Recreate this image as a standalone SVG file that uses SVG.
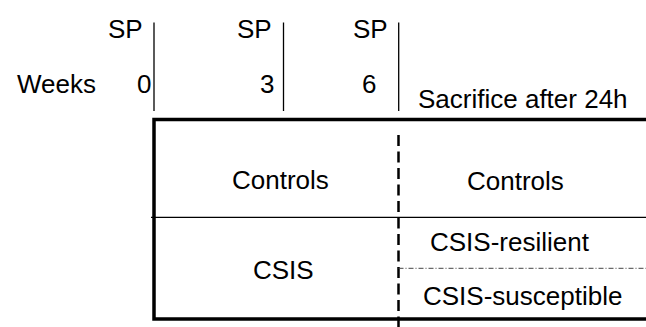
<svg xmlns="http://www.w3.org/2000/svg" width="646" height="327" viewBox="0 0 646 327">
<style>
text{font-family:"Liberation Sans",Arial,sans-serif;font-size:26px;fill:#000}
.tick{stroke:#000;stroke-width:1.3;fill:none}
.thin{stroke:#000;stroke-width:1.3;fill:none}
.frame{stroke:#000;stroke-width:3.5;fill:none}
.dash{stroke:#000;stroke-width:2.5;stroke-dasharray:11 5.5;fill:none}
.dashdot{stroke:#444;stroke-width:1;stroke-dasharray:5 2 1 2;fill:none}
</style>
<rect width="646" height="327" fill="#fff"/>
<g id="timeline">
<text x="108" y="38">SP</text>
<text x="237" y="38">SP</text>
<text x="353" y="38">SP</text>
<text x="17" y="93">Weeks</text>
<text x="137" y="93">0</text>
<text x="260" y="93">3</text>
<text x="362" y="93">6</text>
<text x="418" y="108">Sacrifice after 24h</text>
<line class="tick" x1="154" y1="22.5" x2="154" y2="111"/>
<line class="tick" x1="283.5" y1="22.5" x2="283.5" y2="111"/>
<line class="tick" x1="398.7" y1="22.5" x2="398.7" y2="111"/>
</g>
<g id="connectors">
<path class="frame" d="M650 119.5 H154 V319 H650"/>
<line class="thin" x1="151" y1="217.3" x2="646" y2="217.3"/>
<line class="dash" x1="398.5" y1="135" x2="398.5" y2="327"/>
<line class="dashdot" x1="398.5" y1="268.3" x2="646" y2="268.3"/>
</g>
<g id="controls-left"><text x="232" y="189">Controls</text></g>
<g id="controls-right"><text x="467" y="190">Controls</text></g>
<g id="csis"><text x="253" y="279">CSIS</text></g>
<g id="csis-resilient"><text x="430" y="251">CSIS-resilient</text></g>
<g id="csis-susceptible"><text x="423" y="305">CSIS-susceptible</text></g>
</svg>
